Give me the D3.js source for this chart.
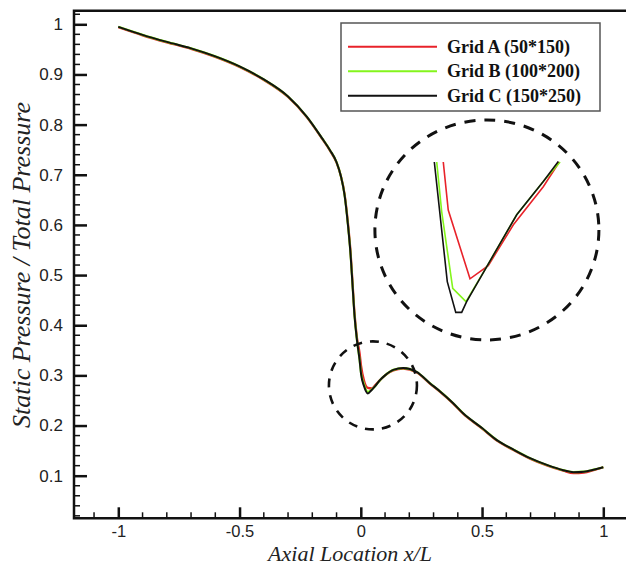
<!DOCTYPE html>
<html>
<head>
<meta charset="utf-8">
<script src="https://cdn.jsdelivr.net/npm/d3@7"></script>
<style>
  body { margin: 0; background: #fff; }
  svg { display: block; }
</style>
</head>
<body>
<svg id="chart" width="626" height="566"></svg>
<script>
// main curves, x/L vs p/p0
var xs = [-1, -0.9, -0.8, -0.7, -0.6, -0.5, -0.4, -0.3, -0.223, -0.16, -0.127, -0.1, -0.082,
  -0.067, -0.053, -0.042, -0.034, -0.026, -0.016, -0.005, 0.001, 0.013, 0.029, 0.045, 0.06, 0.08,
  0.1, 0.134, 0.175, 0.23, 0.286, 0.327, 0.38, 0.423, 0.5, 0.561, 0.63, 0.698, 0.77, 0.835, 0.877,
  0.92, 0.96, 1.0];
var gridA = [0.994, 0.978, 0.964, 0.951, 0.935, 0.915, 0.889, 0.855, 0.815, 0.772, 0.748, 0.724, 0.697,
  0.662, 0.604, 0.545, 0.485, 0.425, 0.376, 0.345, 0.32, 0.29, 0.275, 0.274, 0.281, 0.291,
  0.3, 0.31, 0.3135, 0.306, 0.283, 0.267, 0.244, 0.223, 0.194, 0.17, 0.151, 0.134, 0.12, 0.11, 0.105,
  0.106, 0.111, 0.117];
var gridB = [0.995, 0.979, 0.965, 0.952, 0.936, 0.916, 0.89, 0.856, 0.816, 0.773, 0.749, 0.725, 0.697,
  0.66, 0.6, 0.54, 0.48, 0.42, 0.371, 0.331, 0.305, 0.283, 0.267, 0.272, 0.279, 0.291,
  0.3, 0.311, 0.3145, 0.307, 0.284, 0.268, 0.245, 0.224, 0.195, 0.171, 0.152, 0.135, 0.121, 0.111, 0.107,
  0.108, 0.112, 0.117];
var gridC = [0.995, 0.979, 0.965, 0.952, 0.936, 0.916, 0.89, 0.856, 0.816, 0.773, 0.749, 0.725, 0.697,
  0.66, 0.6, 0.54, 0.48, 0.42, 0.371, 0.331, 0.303, 0.279, 0.264, 0.271, 0.279, 0.291,
  0.3, 0.311, 0.3145, 0.307, 0.284, 0.268, 0.245, 0.224, 0.195, 0.171, 0.152, 0.135, 0.121, 0.111, 0.107,
  0.108, 0.112, 0.117];

// zoomed view near the minimum (inset)
var insetAx = [0.0183, 0.0214, 0.035, 0.0464, 0.0621, 0.0808, 0.0908];
var insetAy = [0.30, 0.288, 0.2708, 0.2741, 0.2843, 0.2938, 0.30];
var insetBx = [0.0142, 0.0173, 0.0242, 0.0325, 0.0454, 0.0642, 0.0808, 0.0913];
var insetBy = [0.30, 0.2876, 0.2684, 0.2651, 0.2738, 0.2868, 0.2951, 0.30];
var insetCx = [0.0127, 0.0208, 0.0261, 0.0298, 0.0329, 0.0454, 0.0642, 0.0808, 0.0902];
var insetCy = [0.30, 0.2701, 0.2624, 0.2624, 0.2651, 0.2738, 0.2868, 0.2951, 0.3001];

var seriesNames = ['Grid A (50*150)', 'Grid B (100*200)', 'Grid C (150*250)'];
var seriesColors = ['#e8222a', '#84f51c', '#111111'];

var xTicks = [-1, -0.5, 0, 0.5, 1];
var yTicks = [0.1, 0.2, 0.3, 0.4, 0.5, 0.6, 0.7, 0.8, 0.9, 1];

var svg = d3.select('#chart');

var x = d3.scaleLinear().domain([-1, 1]).range([118.3, 603.3]);
var y = d3.scaleLinear().domain([0.1, 1]).range([475.7, 24.3]);

var frame = {left: 74, top: 10.7, bottom: 518.3, right: 680};

// minor ticks
var xMinor = d3.range(-11, 12).map(function(d) { return d / 10; })
  .filter(function(d) { return xTicks.indexOf(d) < 0; });
var yMinor = d3.range(1, 52).map(function(d) { return +(d * 0.02).toFixed(2); })
  .filter(function(d) { return Math.abs(d * 10 - Math.round(d * 10)) > 1e-6; });

svg.append('g')
  .selectAll('line')
  .data(yMinor.filter(function(d) { return y(d) > frame.top && y(d) < frame.bottom; }))
  .enter().append('line')
  .attr('x1', frame.left).attr('x2', frame.left + 6)
  .attr('y1', function(d) { return y(d); })
  .attr('y2', function(d) { return y(d); })
  .attr('stroke', '#111').attr('stroke-width', 1.5);

svg.append('g')
  .selectAll('line')
  .data(xMinor.filter(function(d) { return x(d) > frame.left && x(d) < 626; }))
  .enter().append('line')
  .attr('x1', function(d) { return x(d); })
  .attr('x2', function(d) { return x(d); })
  .attr('y1', frame.bottom).attr('y2', frame.bottom - 6)
  .attr('stroke', '#111').attr('stroke-width', 1.5);

// major axes
var yAxis = svg.append('g')
  .attr('transform', 'translate(' + frame.left + ',0)')
  .call(d3.axisLeft(y).tickValues(yTicks).tickSize(-13).tickPadding(11)
    .tickFormat(d3.format('')));
var xAxis = svg.append('g')
  .attr('transform', 'translate(0,' + frame.bottom + ')')
  .call(d3.axisBottom(x).tickValues(xTicks).tickSize(-11).tickPadding(7)
    .tickFormat(function(d) { return String(d); }));

[yAxis, xAxis].forEach(function(a) {
  a.select('.domain').remove();
  a.selectAll('.tick line').attr('stroke', '#111').attr('stroke-width', 2.5);
  a.selectAll('.tick text')
    .attr('fill', '#222')
    .style('font-family', 'Liberation Sans, Arial, sans-serif')
    .style('font-size', '17px');
});
xAxis.selectAll('.tick text').style('font-size', '16.5px');

// frame
svg.append('path')
  .attr('d', 'M' + frame.right + ',' + frame.top + 'H' + frame.left + 'V' + frame.bottom + 'H' + frame.right)
  .attr('fill', 'none').attr('stroke', '#111').attr('stroke-width', 2.5);

// curves
var line = d3.line()
  .x(function(d) { return x(d[0]); })
  .y(function(d) { return y(d[1]); })
  .curve(d3.curveMonotoneX);

[gridA, gridB, gridC].forEach(function(ys, i) {
  svg.append('path')
    .datum(xs.map(function(v, k) { return [v, ys[k]]; }))
    .attr('d', line)
    .attr('fill', 'none')
    .attr('stroke', seriesColors[i])
    .attr('stroke-width', i === 2 ? 2 : 2.2);
});

// dashed circle marking the region of interest
svg.append('ellipse')
  .attr('cx', x(0.05)).attr('cy', y(0.28))
  .attr('rx', 44).attr('ry', 44)
  .attr('fill', 'none').attr('stroke', '#111').attr('stroke-width', 2.6)
  .attr('stroke-dasharray', '9,8');

// inset
var xi = d3.scaleLinear().domain([0, 0.1]).range([414, 574]);
var yi = d3.scaleLinear().domain([0.26, 0.30]).range([322, 162]);

svg.append('ellipse')
  .attr('cx', x(0.52)).attr('cy', y(0.59))
  .attr('rx', 112).attr('ry', 110)
  .attr('fill', 'none').attr('stroke', '#111').attr('stroke-width', 3)
  .attr('stroke-dasharray', '11,9');

var lineInset = d3.line()
  .x(function(d) { return xi(d[0]); })
  .y(function(d) { return yi(d[1]); });

[[insetAx, insetAy], [insetBx, insetBy], [insetCx, insetCy]].forEach(function(s, i) {
  svg.append('path')
    .datum(s[0].map(function(v, k) { return [v, s[1][k]]; }))
    .attr('d', lineInset)
    .attr('fill', 'none')
    .attr('stroke', seriesColors[i])
    .attr('stroke-width', 1.6);
});

// legend
var legend = svg.append('g');
legend.append('rect')
  .attr('x', 341).attr('y', 23).attr('width', 259).attr('height', 88)
  .attr('fill', '#fff').attr('stroke', '#555').attr('stroke-width', 1.5);

var legendRows = legend.selectAll('g')
  .data(seriesNames)
  .enter().append('g')
  .attr('transform', function(d, i) { return 'translate(0,' + (46.7 + i * 24.5) + ')'; });
legendRows.append('line')
  .attr('x1', 348).attr('x2', 437)
  .attr('stroke', function(d, i) { return seriesColors[i]; })
  .attr('stroke-width', 2);
legendRows.append('text')
  .attr('x', 447).attr('y', 6)
  .style('font-family', 'Liberation Serif, Times New Roman, serif')
  .style('font-weight', 'bold')
  .style('font-size', '18px')
  .attr('fill', '#111')
  .text(function(d) { return d; });

// axis titles
svg.append('text')
  .attr('transform', 'translate(30,265) rotate(-90)')
  .attr('text-anchor', 'middle')
  .style('font-family', 'Liberation Serif, Times New Roman, serif')
  .style('font-style', 'italic')
  .style('font-size', '26px')
  .attr('fill', '#222')
  .text('Static Pressure / Total Pressure');

svg.append('text')
  .attr('x', 350).attr('y', 561)
  .attr('text-anchor', 'middle')
  .style('font-family', 'Liberation Serif, Times New Roman, serif')
  .style('font-style', 'italic')
  .style('font-size', '22px')
  .attr('fill', '#222')
  .text('Axial Location x/L');
</script>
</body>
</html>
